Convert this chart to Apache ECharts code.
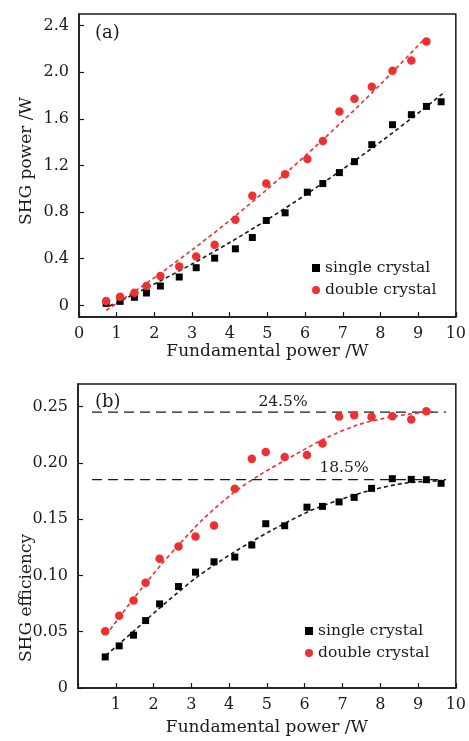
<!DOCTYPE html>
<html>
<head>
<meta charset="utf-8">
<script src="https://cdn.jsdelivr.net/npm/echarts@6/dist/echarts.min.js"></script>
<style>html,body{margin:0;padding:0;background:#fff;}#c{width:469px;height:741px;}</style>
</head>
<body>
<div id="c"></div>
<script>
// ---- data ----
const fundamental = [0.72,1.09,1.47,1.79,2.16,2.66,3.11,3.60,4.15,4.60,4.97,5.47,6.06,6.47,6.91,7.31,7.77,8.32,8.82,9.22,9.61];
const shgSingle = [0.017,0.034,0.069,0.106,0.166,0.243,0.323,0.405,0.485,0.582,0.728,0.794,0.971,1.045,1.139,1.233,1.379,1.550,1.636,1.707,1.747];
const shgDouble = [0.037,0.074,0.109,0.166,0.251,0.334,0.420,0.520,0.734,0.940,1.045,1.125,1.256,1.410,1.664,1.773,1.876,2.013,2.101,2.264];
const effSingle = [0.0276,0.0374,0.0469,0.0599,0.0747,0.0901,0.1029,0.1121,0.1163,0.1270,0.1459,0.1441,0.1606,0.1613,0.1653,0.1693,0.1773,0.1859,0.1853,0.1850,0.1818];
const effDouble = [0.0504,0.0641,0.0777,0.0934,0.1148,0.1257,0.1346,0.1444,0.1770,0.2035,0.2097,0.2052,0.2070,0.2171,0.2411,0.2423,0.2408,0.2414,0.2384,0.2458];

// fitted curves
const fitASingleX = [0.81,1,2,3,4,5,6,7,8,9,9.72];
const fitASingleY = [-0.006,0.023,0.183,0.355,0.539,0.736,0.946,1.168,1.402,1.649,1.835];
const fitADoubleX = [0.72,1,2,3,4,5,6,7,8,9.19];
const fitADoubleY = [-0.043,0.016,0.238,0.476,0.729,0.998,1.282,1.582,1.897,2.293];
const fitBSingleX = [0.74,1.46,2.16,3.13,4.10,5.07,6.12,6.91,7.79,8.67,9.55];
const fitBSingleY = [0.029,0.050,0.071,0.098,0.120,0.139,0.157,0.167,0.176,0.182,0.184];
const fitBDoubleX = [0.74,1.46,2.16,2.69,3.31,4.10,4.80,5.68,6.56,7.44,8.32,9.20,9.46];
const fitBDoubleY = [0.047,0.079,0.108,0.128,0.150,0.173,0.189,0.206,0.222,0.234,0.241,0.245,0.2455];

const refLevels = [0.245, 0.185];
const refLabels = ['24.5%', '18.5%'];
const refSpan = [0.37, 9.74];

const xTicks = [0,1,2,3,4,5,6,7,8,9,10];
const yTicksA = [0,0.4,0.8,1.2,1.6,2.0,2.4];
const yTicksB = [0,0.05,0.10,0.15,0.20,0.25];

const seriesNames = ['single crystal', 'double crystal'];
const xTitle = 'Fundamental power /W';
const yTitleA = 'SHG power /W';
const yTitleB = 'SHG efficiency';

// ---- chart ----
const FONT = 'DejaVu Serif';
const INK = '#1a1a1a';
const RED = '#ee3030';
const zip = (xs, ys) => ys.map((y, i) => [xs[i], y]);

function xAxisCfg(grid, hideZero, nameGap) {
  return {
    gridIndex: grid, type: 'value', min: 0, max: 10, interval: 1,
    axisLine: { show: true, onZero: false, lineStyle: { color: INK, width: 1.5 } },
    axisTick: { show: true, inside: true, length: 5, lineStyle: { color: INK, width: 1.2 } },
    axisLabel: { margin: 9, fontSize: 16, color: INK, fontFamily: FONT, showMinLabel: true, showMaxLabel: true,
      formatter: v => (hideZero && v === 0) ? '' : String(v) },
    splitLine: { show: false },
    name: xTitle, nameLocation: 'middle', nameGap: nameGap,
    nameTextStyle: { fontSize: 17, color: INK, fontFamily: FONT }
  };
}
function yAxisCfg(grid, min, max, ticks, fmt) {
  return {
    gridIndex: grid, type: 'value', min: min, max: max,
    axisLine: { show: true, onZero: false, lineStyle: { color: INK, width: 1.5 } },
    axisTick: { show: true, inside: true, length: 5, customValues: ticks, lineStyle: { color: INK, width: 1.2 } },
    axisLabel: { margin: 10, fontSize: 16, color: INK, fontFamily: FONT, customValues: ticks, formatter: fmt },
    splitLine: { show: false }
  };
}

const option = {
  animation: false,
  backgroundColor: '#fff',
  textStyle: { fontFamily: FONT },
  grid: [
    { left: 79, top: 14, width: 379, height: 303, show: true, borderColor: INK, borderWidth: 1.5 },
    { left: 78, top: 384, width: 379, height: 304, show: true, borderColor: INK, borderWidth: 1.5 }
  ],
  xAxis: [xAxisCfg(0, false, 26), xAxisCfg(1, true, 31)],
  yAxis: [
    yAxisCfg(0, -0.1, 2.5, yTicksA, v => v === 0 ? '0' : v.toFixed(1)),
    yAxisCfg(1, 0, 0.27, yTicksB, v => v === 0 ? '0' : v.toFixed(2))
  ],
  legend: [
    { left: 312, top: 260, orient: 'vertical', padding: 0, itemWidth: 8, itemHeight: 8, itemGap: 6, selectedMode: false,
      data: seriesNames, textStyle: { fontSize: 15.5, lineHeight: 16, color: INK, fontFamily: FONT } },
    { left: 305, top: 623, orient: 'vertical', padding: 0, itemWidth: 8, itemHeight: 8, itemGap: 6, selectedMode: false,
      data: seriesNames, textStyle: { fontSize: 15.5, lineHeight: 16, color: INK, fontFamily: FONT } }
  ],
  graphic: [
    { type: 'text', x: 27, y: 161, rotation: Math.PI / 2,
      style: { text: yTitleA, fontSize: 17, fontFamily: FONT, fill: INK, align: 'center', verticalAlign: 'middle' } },
    { type: 'text', x: 27, y: 598, rotation: Math.PI / 2,
      style: { text: yTitleB, fontSize: 17, fontFamily: FONT, fill: INK, align: 'center', verticalAlign: 'middle' } },
    { type: 'text', x: 95, y: 33,
      style: { text: '(a)', fontSize: 18, fontFamily: FONT, fill: INK, align: 'left', verticalAlign: 'middle' } },
    { type: 'text', x: 95, y: 402,
      style: { text: '(b)', fontSize: 18, fontFamily: FONT, fill: INK, align: 'left', verticalAlign: 'middle' } },
    { type: 'text', x: 283, y: 402,
      style: { text: refLabels[0], fontSize: 15.5, fontFamily: FONT, fill: INK, align: 'center', verticalAlign: 'middle' } },
    { type: 'text', x: 344, y: 468,
      style: { text: refLabels[1], fontSize: 15.5, fontFamily: FONT, fill: INK, align: 'center', verticalAlign: 'middle' } }
  ],
  series: [
    // reference levels (b)
    ...refLevels.map((lv, i) => ({
      type: 'line', xAxisIndex: 1, yAxisIndex: 1, name: 'ref' + i, silent: true, symbol: 'none', z: 1,
      data: [[refSpan[0], lv], [refSpan[1], lv]],
      lineStyle: { color: INK, width: 1.3, type: [10, 6] }
    })),
    // fits (a)
    { type: 'line', xAxisIndex: 0, yAxisIndex: 0, name: 'fitA1', symbol: 'none', smooth: 0.3, z: 2,
      data: zip(fitASingleX, fitASingleY), lineStyle: { color: INK, width: 1.6, type: [4, 3] } },
    { type: 'line', xAxisIndex: 0, yAxisIndex: 0, name: 'fitA2', symbol: 'none', smooth: 0.3, z: 2,
      data: zip(fitADoubleX, fitADoubleY), lineStyle: { color: RED, width: 1.6, type: [4, 3] } },
    // fits (b)
    { type: 'line', xAxisIndex: 1, yAxisIndex: 1, name: 'fitB1', symbol: 'none', smooth: 0.3, z: 2,
      data: zip(fitBSingleX, fitBSingleY), lineStyle: { color: INK, width: 1.6, type: [4, 3] } },
    { type: 'line', xAxisIndex: 1, yAxisIndex: 1, name: 'fitB2', symbol: 'none', smooth: 0.3, z: 2,
      data: zip(fitBDoubleX, fitBDoubleY), lineStyle: { color: RED, width: 1.6, type: [4, 3] } },
    // points (a)
    { type: 'scatter', xAxisIndex: 0, yAxisIndex: 0, name: seriesNames[0], symbol: 'rect', symbolSize: 7, z: 3,
      data: zip(fundamental, shgSingle), itemStyle: { color: '#000', opacity: 1 } },
    { type: 'scatter', xAxisIndex: 0, yAxisIndex: 0, name: seriesNames[1], symbol: 'circle', symbolSize: 8.5, z: 3,
      data: zip(fundamental, shgDouble), itemStyle: { color: RED, opacity: 1 } },
    // points (b)
    { type: 'scatter', xAxisIndex: 1, yAxisIndex: 1, name: seriesNames[0], symbol: 'rect', symbolSize: 7, z: 3,
      data: zip(fundamental, effSingle), itemStyle: { color: '#000', opacity: 1 } },
    { type: 'scatter', xAxisIndex: 1, yAxisIndex: 1, name: seriesNames[1], symbol: 'circle', symbolSize: 8.5, z: 3,
      data: zip(fundamental, effDouble), itemStyle: { color: RED, opacity: 1 } }
  ]
};

const chart = echarts.init(document.getElementById('c'), null, { renderer: 'canvas' });
chart.setOption(option);
</script>
</body>
</html>
